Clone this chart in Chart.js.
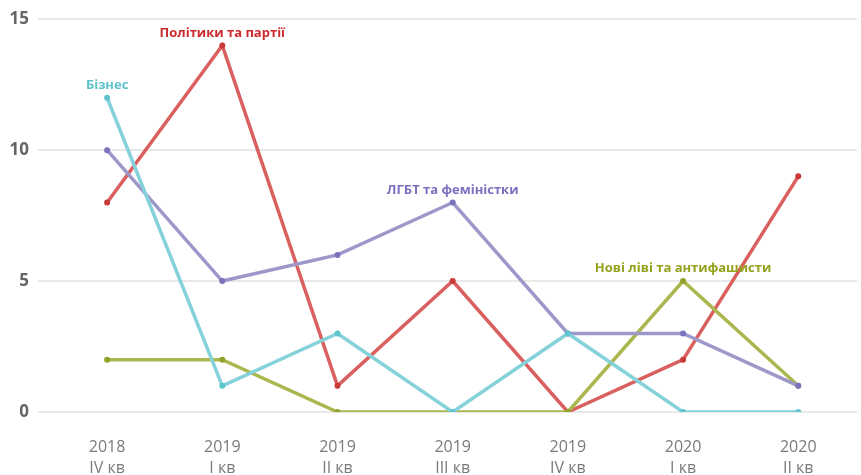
<!DOCTYPE html>
<html>
<head>
<meta charset="utf-8">
<script src="https://cdn.jsdelivr.net/npm/chart.js@4"></script>
<style>
  html, body { margin: 0; padding: 0; background: #fff; }
  #wrap { width: 861px; height: 475px; }
</style>
</head>
<body>
<div id="wrap"><canvas id="chart"></canvas></div>
<script>
// quarters
const years = ['2018', '2019', '2019', '2019', '2019', '2020', '2020'];
const quarters = ['IV кв', 'I кв', 'II кв', 'III кв', 'IV кв', 'I кв', 'II кв'];

// series values
const business = [12, 1, 3, 0, 3, 0, 0];
const lgbt = [10, 5, 6, 8, 3, 3, 1];
const newLeft = [2, 2, 0, 0, 0, 5, 1];
const politics = [8, 14, 1, 5, 0, 2, 9];

const yTicks = [0, 5, 10, 15];

// where each series label sits (index of point)
const labelAt = { 'Бізнес': 0, 'ЛГБТ та феміністки': 3, 'Нові ліві та антифашисти': 5, 'Політики та партії': 1 };

const toPoints = arr => arr.map((v, i) => ({ x: i, y: v }));

function series(label, values, line, point, text) {
    return {
        label: label,
        data: toPoints(values),
        borderColor: line,
        backgroundColor: point,
        pointBackgroundColor: point,
        pointBorderColor: point,
        pointRadius: 3,
        pointBorderWidth: 0,
        borderWidth: 3.5,
        tension: 0,
        textColor: text
    };
}

// draw series names above a chosen point
const seriesLabels = {
    id: 'seriesLabels',
    afterDatasetsDraw(chart) {
        const ctx = chart.ctx;
        ctx.save();
        ctx.font = 'bold 13px "Open Sans", sans-serif';
        ctx.textAlign = 'center';
        ctx.textBaseline = 'bottom';
        chart.data.datasets.forEach((ds, i) => {
            const idx = labelAt[ds.label];
            const pt = chart.getDatasetMeta(i).data[idx];
            ctx.fillStyle = ds.textColor;
            ctx.fillText(ds.label, pt.x, pt.y - 6);
        });
        ctx.restore();
    }
};

new Chart(document.getElementById('chart'), {
    type: 'line',
    data: {
        datasets: [
            series('Бізнес', business, '#85d2da', '#5fc4ce', '#5cc3cd'),
            series('ЛГБТ та феміністки', lgbt, '#9d98ca', '#7a72bd', '#7b6fc0'),
            series('Нові ліві та антифашисти', newLeft, '#abb74e', '#93a12a', '#94a21b'),
            series('Політики та партії', politics, '#d9605f', '#c9393a', '#cc2a2e')
        ]
    },
    plugins: [seriesLabels],
    options: {
        responsive: true,
        maintainAspectRatio: false,
        animation: false,
        layout: { padding: { top: 15, right: 0, left: 0, bottom: 0 } },
        plugins: {
            legend: { display: false },
            tooltip: { enabled: false }
        },
        scales: {
            x: {
                type: 'linear',
                min: -0.6,
                max: 6.51,
                grid: { display: false, drawTicks: false },
                border: { display: false },
                afterBuildTicks: scale => {
                    scale.ticks = years.map((y, i) => ({ value: i }));
                },
                afterFit: scale => { scale.height = 63; },
                ticks: {
                    padding: 25,
                    color: '#7a7a7a',
                    font: { family: '"Open Sans", sans-serif', size: 16, lineHeight: 1.3 },
                    maxRotation: 0,
                    autoSkip: false,
                    callback: v => [years[v], quarters[v]]
                }
            },
            y: {
                min: 0,
                max: 15,
                grid: { color: '#e8e8e8', lineWidth: 2, drawTicks: false },
                border: { display: false },
                afterBuildTicks: scale => {
                    scale.ticks = yTicks.map(v => ({ value: v }));
                },
                afterFit: scale => { scale.width = 38; },
                ticks: {
                    padding: 9,
                    color: '#666',
                    font: { family: '"Open Sans", sans-serif', size: 17, weight: 'bold' }
                }
            }
        }
    }
});
</script>
</body>
</html>
